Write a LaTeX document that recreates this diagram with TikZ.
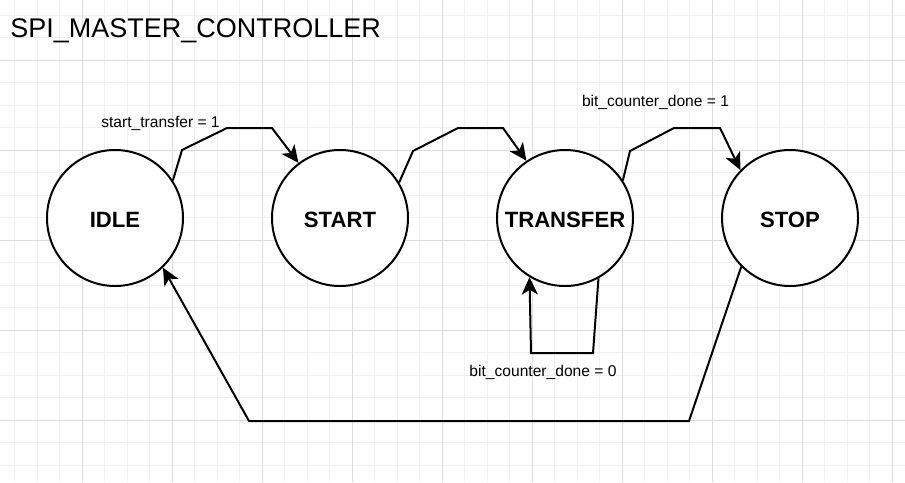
\documentclass[tikz,border=0pt]{standalone}
\usepackage{fontspec}
\setmainfont{Liberation Sans}
\usetikzlibrary{arrows.meta}
\definecolor{GridMinor}{HTML}{F0F0F0}
\definecolor{GridMajor}{HTML}{DCDCDC}
\begin{document}
\begin{tikzpicture}[x=0.75pt,y=-0.75pt,
	statenode/.style={draw,circle,fill=white,line width=1.5pt,minimum size=102pt,inner sep=0pt,text height=14.5pt,text depth=0pt,font=\fontsize{16.6}{19}\selectfont\bfseries},
	transition/.style={-{Stealth[length=13pt,width=12pt,inset=3.5pt]},line width=1.5pt},
	condition/.style={anchor=base,inner sep=0pt,font=\fontsize{11.7}{14}\selectfont}]
				% Background grid
				\fill[white] (0,0) rectangle (905,482);
				\useasboundingbox (0,0) rectangle (905,482);
				\foreach \k in {0,...,39} \draw[GridMinor,line width=0.75pt] (14.5+22.5*\k,0) -- (14.5+22.5*\k,482);
				\foreach \k in {0,...,20} \draw[GridMinor,line width=0.75pt] (0,15+22.5*\k) -- (905,15+22.5*\k);
				\foreach \x in {82,172,...,892} \draw[GridMajor,line width=0.75pt] (\x,0) -- (\x,482);
				\foreach \y in {60,150,...,420} \draw[GridMajor,line width=0.75pt] (0,\y) -- (905,\y);
				
				% SPI master state machine
				\node[anchor=base west,inner sep=0pt,font=\fontsize{20.25}{24}\selectfont] (Title) at (10,37) {SPI\_MASTER\_CONTROLLER};
				\node[statenode] (Idle) at (115,218) {IDLE};
				\node[statenode] (Start) at (340,218) {START};
				\node[statenode] (Transfer) at (565,218) {TRANSFER};
				\node[statenode] (Stop) at (790,218) {STOP};
				
				\draw[transition] (Idle.33) -- (182,150) -- (227,128) -- (272,128) -- (Start.127);
				\draw[transition] (Start.31) -- (413,151) -- (458,128) -- (503,128) -- (Transfer.124);
				\draw[transition] (Transfer.33) -- (630,151) -- (674,128) -- (720,128) -- (Stop.136);
				\draw[transition] (Transfer.299) -- (593,353) -- (531,353) -- (Transfer.239);
				\draw[transition] (Stop.225) -- (689,421) -- (249,421) -- (Idle.314);
				
				\node[condition] (StartCond) at (160.5,127.5) {start\_transfer = 1};
				\node[condition] (DoneCond) at (655.5,106) {bit\_counter\_done = 1};
				\node[condition] (LoopCond) at (543,376) {bit\_counter\_done = 0};
				
				\end{tikzpicture}
\end{document}
